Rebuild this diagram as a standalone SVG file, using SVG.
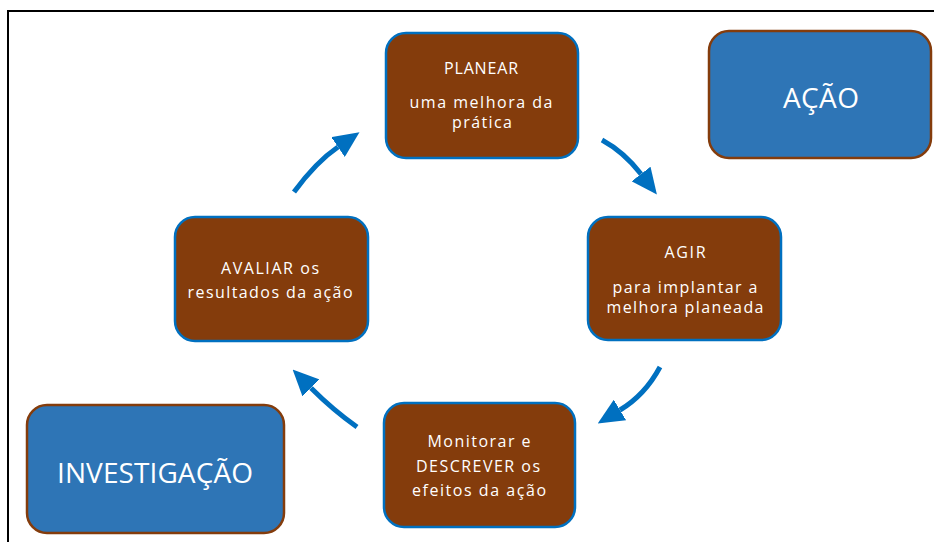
<svg xmlns="http://www.w3.org/2000/svg" width="934" height="542" viewBox="0 0 934 542">
<style>
.step rect{fill:#843C0C;stroke:#0070C0;stroke-width:2.5}
.label rect{fill:#2E75B6;stroke:#843C0C;stroke-width:2.5}
.t{font-family:"Open Sans","Noto Sans","Liberation Sans",sans-serif;fill:#fff;text-anchor:middle;font-size:16px}
.big{font-size:28px}
.arrow{fill:none;stroke:#0070C0;stroke-width:5;marker-end:url(#head)}
</style>
<defs>
<marker id="head" markerUnits="userSpaceOnUse" viewBox="0 0 26 24" markerWidth="26" markerHeight="24" refX="0" refY="12" orient="auto">
<path d="M0,0 L26,12 L0,24 z" fill="#0070C0"/>
</marker>
</defs>
<rect x="0" y="0" width="934" height="542" fill="#fff"/>
<rect x="8" y="11" width="960" height="600" fill="none" stroke="#000" stroke-width="2"/>

<g id="connectors">
<path class="arrow" d="M294,192 Q316,162 338,147"/>
<path class="arrow" d="M602,140 Q624,152 641,174"/>
<path class="arrow" d="M660,367 Q645,395 620,410"/>
<path class="arrow" d="M357,427 Q333,410 311,388"/>
</g>

<g id="planear" class="step">
<rect x="386" y="33" width="192" height="125" rx="20"/>
<text class="t" x="481" y="74" textLength="74" lengthAdjust="spacing">PLANEAR</text>
<text class="t" x="481" y="108" textLength="143" lengthAdjust="spacing">uma melhora da</text>
<text class="t" x="482" y="128" textLength="60" lengthAdjust="spacing">prática</text>
</g>

<g id="agir" class="step">
<rect x="588" y="217" width="193" height="123" rx="20"/>
<text class="t" x="685" y="258" textLength="41" lengthAdjust="spacing">AGIR</text>
<text class="t" x="685" y="293" textLength="145" lengthAdjust="spacing">para implantar a</text>
<text class="t" x="685" y="313" textLength="157" lengthAdjust="spacing">melhora planeada</text>
</g>

<g id="monitorar" class="step">
<rect x="384" y="403" width="191" height="124" rx="20"/>
<text class="t" x="479" y="447" textLength="103" lengthAdjust="spacing">Monitorar e</text>
<text class="t" x="478" y="472" textLength="124" lengthAdjust="spacing">DESCREVER  os</text>
<text class="t" x="479" y="496" textLength="134" lengthAdjust="spacing">efeitos da ação</text>
</g>

<g id="avaliar" class="step">
<rect x="175" y="217" width="193" height="124" rx="20"/>
<text class="t" x="270" y="274" textLength="98" lengthAdjust="spacing">AVALIAR  os</text>
<text class="t" x="270" y="298" textLength="165" lengthAdjust="spacing">resultados da ação</text>
</g>

<g id="acao" class="label">
<rect x="709" y="31" width="222" height="127" rx="20"/>
<text class="t big" x="821" y="108" textLength="76" lengthAdjust="spacing">AÇÃO</text>
</g>

<g id="investigacao" class="label">
<rect x="27" y="405" width="257" height="128" rx="20"/>
<text class="t big" x="155" y="483" textLength="196" lengthAdjust="spacing">INVESTIGAÇÃO</text>
</g>
</svg>
